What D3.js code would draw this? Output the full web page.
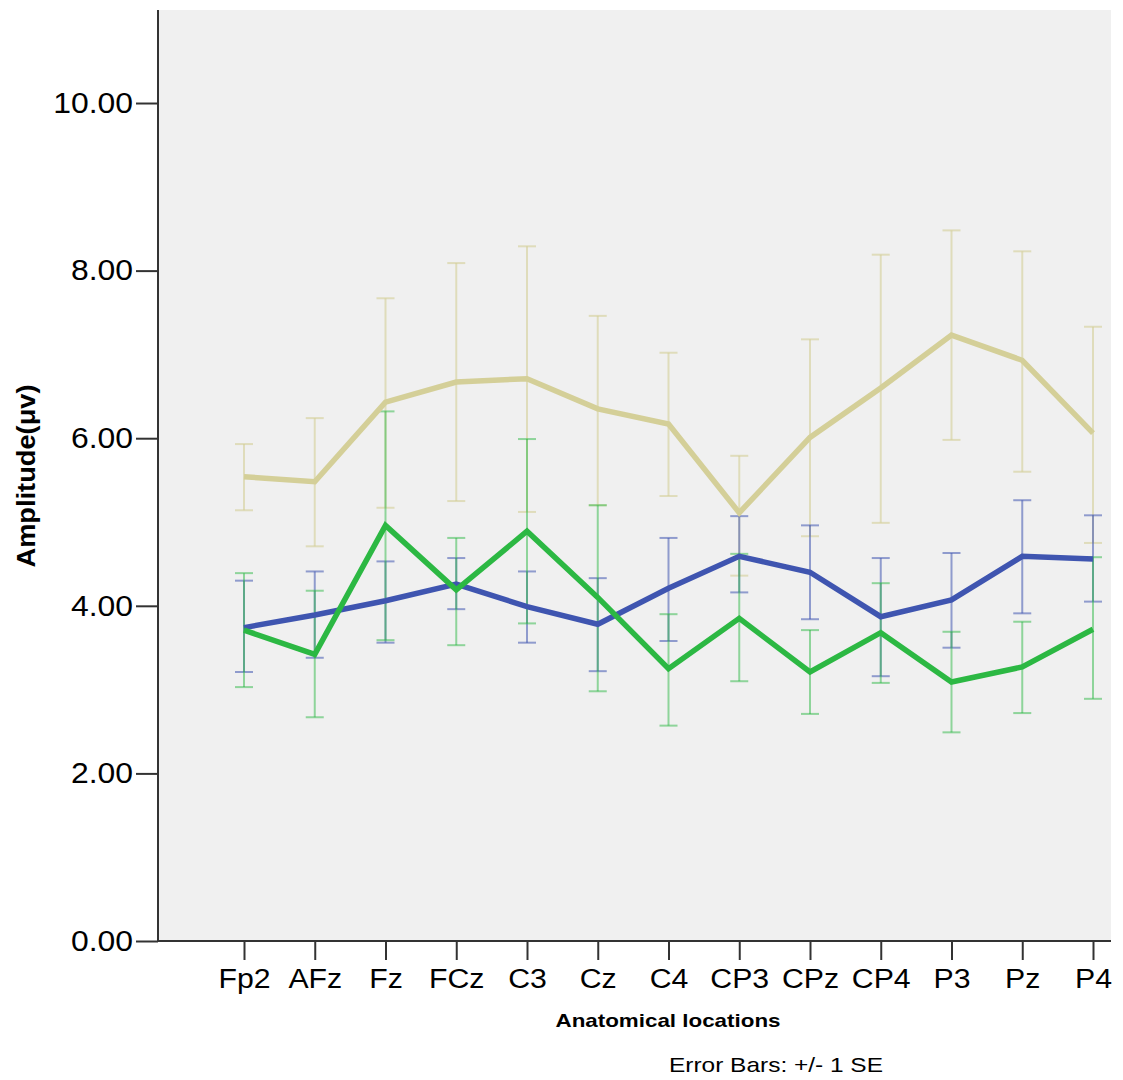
<!DOCTYPE html>
<html>
<head>
<meta charset="utf-8">
<script src="https://cdn.jsdelivr.net/npm/d3@7"></script>
<style>
  body { margin: 0; background: #ffffff; }
  svg { display: block; }
  text { font-family: "Liberation Sans", Arial, sans-serif; fill: #000; }
</style>
</head>
<body>
<svg id="chart" width="1123" height="1080"></svg>
<script>
// ---- data ----
const categories = ["Fp2","AFz","Fz","FCz","C3","Cz","C4","CP3","CPz","CP4","P3","Pz","P4"];

const tanMean  = [5.54, 5.48, 6.43, 6.67, 6.71, 6.35, 6.17, 5.11, 6.01, 6.60, 7.23, 6.93, 6.06];
const tanHigh  = [5.93, 6.24, 7.67, 8.09, 8.29, 7.46, 7.02, 5.79, 7.18, 8.19, 8.48, 8.23, 7.33];
const tanLow   = [5.14, 4.71, 5.17, 5.25, 5.12, 5.20, 5.31, 4.36, 4.83, 4.99, 5.98, 5.60, 4.75];

const blueMean = [3.74, 3.89, 4.06, 4.26, 3.99, 3.78, 4.21, 4.59, 4.40, 3.87, 4.07, 4.59, 4.56];
const blueHigh = [4.30, 4.41, 4.53, 4.57, 4.41, 4.33, 4.81, 5.07, 4.96, 4.57, 4.63, 5.26, 5.08];
const blueLow  = [3.21, 3.38, 3.56, 3.96, 3.56, 3.22, 3.58, 4.16, 3.84, 3.16, 3.50, 3.91, 4.05];

const greenMean = [3.71, 3.42, 4.96, 4.19, 4.89, 4.10, 3.25, 3.85, 3.21, 3.68, 3.09, 3.27, 3.72];
const greenHigh = [4.39, 4.18, 6.32, 4.81, 5.99, 5.20, 3.90, 4.62, 3.71, 4.27, 3.69, 3.81, 4.58];
const greenLow  = [3.03, 2.67, 3.59, 3.53, 3.79, 2.98, 2.57, 3.10, 2.71, 3.08, 2.49, 2.72, 2.89];

const yTicks = [0, 2, 4, 6, 8, 10];
const yMax = 11.11;

const series = [
  { name: "tan",   color: "#d4cf98", barColor: "rgba(212,207,152,0.6)", mean: tanMean,   high: tanHigh,   low: tanLow },
  { name: "blue",  color: "#3f55b0", barColor: "rgba(63,85,176,0.55)",  mean: blueMean,  high: blueHigh,  low: blueLow },
  { name: "green", color: "#2cb843", barColor: "rgba(44,184,67,0.5)",   mean: greenMean, high: greenHigh, low: greenLow }
];

// ---- layout ----
const margin = { left: 158, top: 10 };
const plotW = 953, plotH = 931;

const svg = d3.select("#chart");
const g = svg.append("g").attr("transform", `translate(${margin.left},${margin.top})`);

const x = d3.scalePoint().domain(categories).range([86, 935]);
const y = d3.scaleLinear().domain([0, yMax]).range([plotH, 0]);

// widen text horizontally to match the reference's stretched type
function stretch(sel, f) {
  sel.each(function() {
    const w = this.getComputedTextLength();
    d3.select(this).attr("textLength", w * f).attr("lengthAdjust", "spacingAndGlyphs");
  });
}

// background
g.append("rect").attr("x", 0).attr("y", 0).attr("width", plotW).attr("height", plotH).attr("fill", "#f0f0f0");

// error bars
const capHalf = 9;
series.forEach(s => {
  const eb = g.append("g").attr("class", "err-" + s.name);
  categories.forEach((c, i) => {
    const cx = x(c);
    eb.append("line").attr("x1", cx).attr("x2", cx).attr("y1", y(s.low[i])).attr("y2", y(s.high[i]))
      .attr("stroke", s.barColor).attr("stroke-width", 2);
    [s.low[i], s.high[i]].forEach(v => {
      eb.append("line").attr("x1", cx - capHalf).attr("x2", cx + capHalf).attr("y1", y(v)).attr("y2", y(v))
        .attr("stroke", s.barColor).attr("stroke-width", 2);
    });
  });
});

// lines
const line = d3.line().x((d, i) => x(categories[i])).y(d => y(d));
series.forEach(s => {
  g.append("path").datum(s.mean).attr("d", line).attr("fill", "none")
    .attr("stroke", s.color).attr("stroke-width", 5.5).attr("stroke-linejoin", "miter");
});

// y axis
const yAxis = d3.axisLeft(y).tickValues(yTicks).tickFormat(d3.format(".2f")).tickSize(22).tickPadding(3);
const ya = g.append("g").call(yAxis);
ya.select(".domain").remove();
ya.selectAll(".tick line").attr("stroke", "#333").attr("stroke-width", 2);
ya.selectAll(".tick text").attr("font-size", 29).attr("fill", "#000")
  .attr("font-family", "'Liberation Sans', Arial, sans-serif").call(stretch, 1.1);
g.append("line").attr("x1", 0).attr("x2", 0).attr("y1", 0).attr("y2", plotH).attr("stroke", "#333").attr("stroke-width", 2);

// x axis
const xAxis = d3.axisBottom(x).tickSize(19).tickPadding(9);
const xa = g.append("g").attr("transform", `translate(0,${plotH})`).call(xAxis);
xa.select(".domain").remove();
xa.selectAll(".tick line").attr("stroke", "#333").attr("stroke-width", 2);
xa.selectAll(".tick text").attr("font-size", 27).attr("fill", "#000")
  .attr("font-family", "'Liberation Sans', Arial, sans-serif").call(stretch, 1.12);
g.append("line").attr("x1", 0).attr("x2", plotW).attr("y1", plotH).attr("y2", plotH).attr("stroke", "#333").attr("stroke-width", 2);

// titles
svg.append("text").attr("x", 668).attr("y", 1027).attr("text-anchor", "middle")
  .attr("font-size", 19).attr("font-weight", "bold").text("Anatomical locations")
  .attr("textLength", 225).attr("lengthAdjust", "spacingAndGlyphs");

svg.append("text").attr("transform", "translate(35,476) rotate(-90)").attr("text-anchor", "middle")
  .attr("font-size", 25).attr("font-weight", "bold").text("Amplitude(μv)")
  .attr("textLength", 183).attr("lengthAdjust", "spacingAndGlyphs");

svg.append("text").attr("x", 776).attr("y", 1072).attr("text-anchor", "middle")
  .attr("font-size", 21).attr("fill", "#222").text("Error Bars: +/- 1 SE")
  .attr("textLength", 214).attr("lengthAdjust", "spacingAndGlyphs");
</script>
</body>
</html>
